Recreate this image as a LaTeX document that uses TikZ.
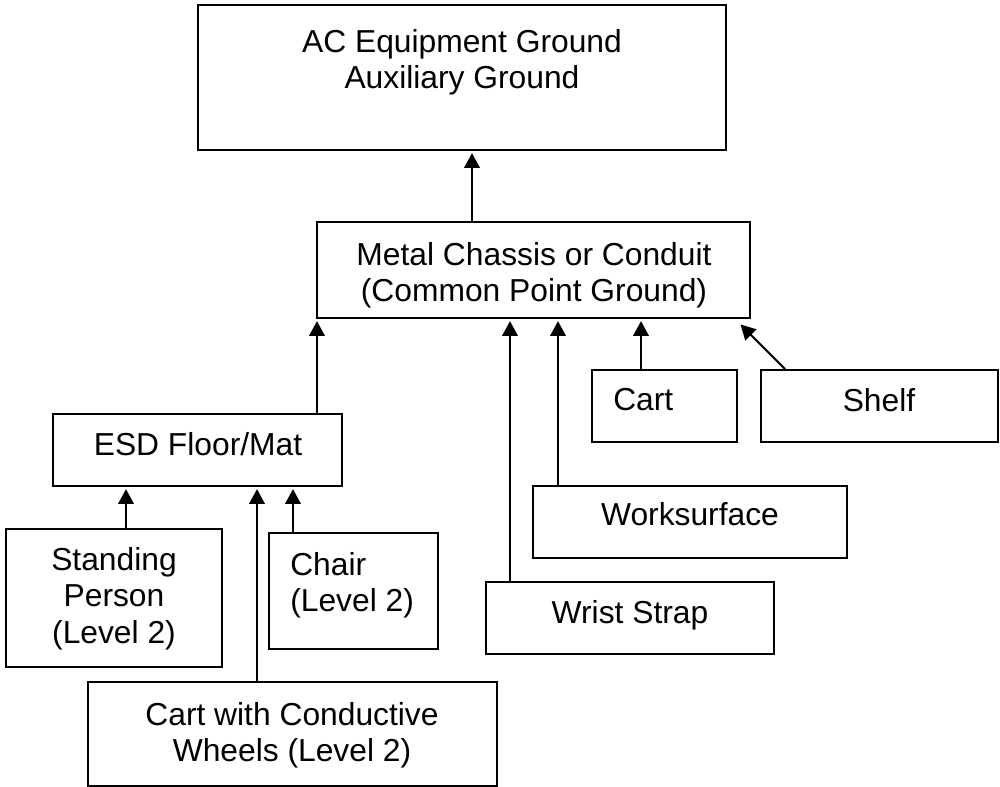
\documentclass[tikz,border=0pt]{standalone}
\usepackage{fontspec}
\setmainfont{Liberation Sans}
\usetikzlibrary{arrows.meta,fit}

\begin{document}
\begin{tikzpicture}[
    x=0.025cm, y=-0.025cm,
    font=\fontsize{22.6}{26}\selectfont,
    >={Triangle[length=10.5pt,width=11pt]},
    box/.style={draw, line width=1.4pt, inner sep=0pt, fit={#1}},
    txt/.style={inner sep=0pt, anchor=north, align=center},
    txtl/.style={inner sep=0pt, anchor=north west, align=left},
    sig/.style={->, line width=1.4pt, shorten >=1.5pt},
  ]
  \useasboundingbox (0,0) rectangle (1000,787);

  %% ---- boxes ---------------------------------------------------------
  \node[box={(198,5) (726,150)}]   (ac)     {};
  \node[box={(317,222) (750,318)}] (metal)  {};
  \node[box={(53,414) (342,486)}]  (esd)    {};
  \node[box={(592,370) (737,442)}] (cart)   {};
  \node[box={(761,370) (998,442)}] (shelf)  {};
  \node[box={(533,486) (847,558)}] (ws)     {};
  \node[box={(486,582) (774,654)}] (wrist)  {};
  \node[box={(6,529) (222,667)}]   (stand)  {};
  \node[box={(269,533) (438,649)}] (chair)  {};
  \node[box={(88,682) (497,786)}]  (wheels) {};

  %% ---- labels --------------------------------------------------------
  \node[txt]  (ac-t)     at (462,29)  {AC Equipment Ground\\ Auxiliary Ground};
  \node[txt]  (metal-t)  at (534,242) {Metal Chassis or Conduit\\ (Common Point Ground)};
  \node[txt]  (esd-t)    at (198,432) {ESD Floor/Mat};
  \node[txtl] (cart-t)   at (613,388) {Cart};
  \node[txt]  (shelf-t)  at (879,388) {Shelf};
  \node[txt]  (ws-t)     at (690,502) {Worksurface};
  \node[txt]  (wrist-t)  at (630,600) {Wrist Strap};
  \node[txt]  (stand-t)  at (114,547) {Standing\\ Person\\ (Level 2)};
  \node[txtl] (chair-t)  at (290,552) {Chair\\ (Level 2)};
  \node[txt]  (wheels-t) at (292,702) {Cart with Conductive\\ Wheels (Level 2)};

  %% ---- ground paths --------------------------------------------------
  \draw[sig] (472,0 |- metal.north) -- (472,0 |- ac.south);
  \draw[sig] (317,0 |- esd.north)   -- (317,0 |- metal.south);
  \draw[sig] (510,0 |- wrist.north) -- (510,0 |- metal.south);
  \draw[sig] (558,0 |- ws.north)    -- (558,0 |- metal.south);
  \draw[sig] (641,0 |- cart.north)  -- (641,0 |- metal.south);
  \draw[sig] (785,0 |- shelf.north) -- ([shift={(-12,4)}]metal.south east);

  \draw[sig] (126,0 |- stand.north)  -- (126,0 |- esd.south);
  \draw[sig] (293,0 |- chair.north)  -- (293,0 |- esd.south);
  \draw[sig] (257,0 |- wheels.north) -- (257,0 |- esd.south);

\end{tikzpicture}
\end{document}
